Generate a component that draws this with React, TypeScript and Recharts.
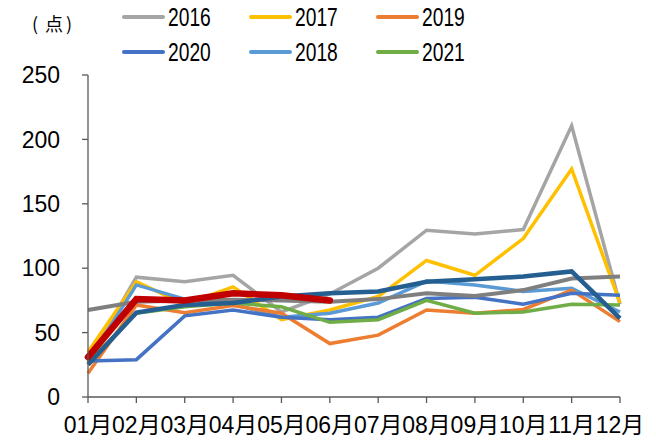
import React from 'react';
import { LineChart, Line, XAxis, YAxis } from 'recharts';

const months = ['01月', '02月', '03月', '04月', '05月', '06月', '07月', '08月', '09月', '10月', '11月', '12月'];
const s2016 = [28, 93, 89.5, 94.5, 66, 80, 100, 129.5, 126.5, 130, 210.5, 72];
const s2017 = [35, 89.5, 72, 85.5, 60, 67.5, 78, 106, 94.5, 123, 177, 73];
const s2018 = [27, 87, 76, 72, 62, 65, 73, 90, 87, 82, 84.5, 66];
const s2019 = [18.5, 71.5, 65.5, 71, 65, 41.5, 48, 67.5, 65, 68, 83, 58.5];
const s2020 = [28, 29, 63, 67.5, 62, 60, 62, 76.5, 77.5, 72, 80.5, 79];
const s2021 = [27, 65, 70, 73, 70, 58, 60, 75, 65, 66, 72, 71.5];
const sDarkGray = [67.5, 74, 75, 75.5, 75, 74, 76, 80.5, 78.5, 83, 92, 93.5];
const sDarkBlue = [25, 65.5, 71.5, 73, 78, 80.5, 82, 89.5, 91.5, 93.5, 97.5, 61];
const sRed = [31, 76, 75, 80.5, 79, 75];
const yTicks = [0, 50, 100, 150, 200, 250];

const data = months.map((m, i) => ({
  month: m,
  y2016: s2016[i],
  y2017: s2017[i],
  y2018: s2018[i],
  y2019: s2019[i],
  y2020: s2020[i],
  y2021: s2021[i],
  yDarkGray: sDarkGray[i],
  yDarkBlue: sDarkBlue[i],
  yRed: i < sRed.length ? sRed[i] : null,
}));

const legendItems = [
  { name: '2016', color: '#A5A5A5', col: 0, row: 0 },
  { name: '2017', color: '#FFC000', col: 1, row: 0 },
  { name: '2019', color: '#ED7D31', col: 2, row: 0 },
  { name: '2020', color: '#4472C4', col: 0, row: 1 },
  { name: '2018', color: '#5B9BD5', col: 1, row: 1 },
  { name: '2021', color: '#70AD47', col: 2, row: 1 },
];

const font = '"Liberation Sans", Arial, "Noto Sans CJK SC", sans-serif';
const cjk = '"Noto Sans CJK SC", sans-serif';
const axisColor = '#595959';

export default function App() {
  return (
    <div style={{ position: 'absolute', left: 0, top: 0, width: 656, height: 443, background: '#fff', fontFamily: font }}>
      <LineChart width={656} height={443} data={data} margin={{ top: 75, right: 36, bottom: 0, left: 0 }}>
        <XAxis
          dataKey="month"
          height={46}
          padding={{ left: 0, right: 0 }}
          interval={0}
          tickSize={6}
          tickMargin={14}
          axisLine={{ stroke: axisColor, strokeWidth: 1.3 }}
          tickLine={{ stroke: axisColor, strokeWidth: 1.3 }}
          tick={{ fill: '#000', fontSize: 23, fontFamily: font }}
        />
        <YAxis
          width={88}
          domain={[0, 250]}
          ticks={yTicks}
          interval={0}
          tickSize={6}
          tickMargin={22}
          axisLine={{ stroke: axisColor, strokeWidth: 1.3 }}
          tickLine={{ stroke: axisColor, strokeWidth: 1.3 }}
          tick={{ fill: '#000', fontSize: 23, fontFamily: font }}
        />
        <Line dataKey="y2016" stroke="#A5A5A5" strokeWidth={3.5} dot={false} isAnimationActive={false} />
        <Line dataKey="y2017" stroke="#FFC000" strokeWidth={3.5} dot={false} isAnimationActive={false} />
        <Line dataKey="y2018" stroke="#5B9BD5" strokeWidth={3.5} dot={false} isAnimationActive={false} />
        <Line dataKey="y2019" stroke="#ED7D31" strokeWidth={3.5} dot={false} isAnimationActive={false} />
        <Line dataKey="y2020" stroke="#4472C4" strokeWidth={3.5} dot={false} isAnimationActive={false} />
        <Line dataKey="y2021" stroke="#70AD47" strokeWidth={3.5} dot={false} isAnimationActive={false} />
        <Line dataKey="yDarkGray" stroke="#7F7F7F" strokeWidth={4} dot={false} isAnimationActive={false} />
        <Line dataKey="yDarkBlue" stroke="#255E91" strokeWidth={4.5} dot={false} isAnimationActive={false} />
        <Line dataKey="yRed" stroke="#C00000" strokeWidth={6.5} strokeLinecap="round" dot={false} connectNulls={false} isAnimationActive={false} />
      </LineChart>
      <div style={{ position: 'absolute', left: 32, top: 10, fontSize: 18, fontFamily: cjk, lineHeight: '26px', color: '#000' }}>(</div>
      <div style={{ position: 'absolute', left: 45, top: 10, fontSize: 18, fontFamily: cjk, lineHeight: '26px', color: '#000' }}>点</div>
      <div style={{ position: 'absolute', left: 66, top: 10, fontSize: 18, fontFamily: cjk, lineHeight: '26px', color: '#000' }}>)</div>
      {legendItems.map((it) => {
        const x = 122 + it.col * 127;
        const y = 17 + it.row * 35;
        return (
          <React.Fragment key={it.name}>
            <div style={{ position: 'absolute', left: x, top: y - 2, width: 43, height: 4, borderRadius: 2, background: it.color }} />
            <div style={{ position: 'absolute', left: x + 46, top: y - 15, height: 30, lineHeight: '30px', fontSize: 25, fontFamily: font, color: '#000', transform: 'scaleX(0.77)', transformOrigin: 'left center', whiteSpace: 'nowrap' }}>{it.name}</div>
          </React.Fragment>
        );
      })}
    </div>
  );
}
